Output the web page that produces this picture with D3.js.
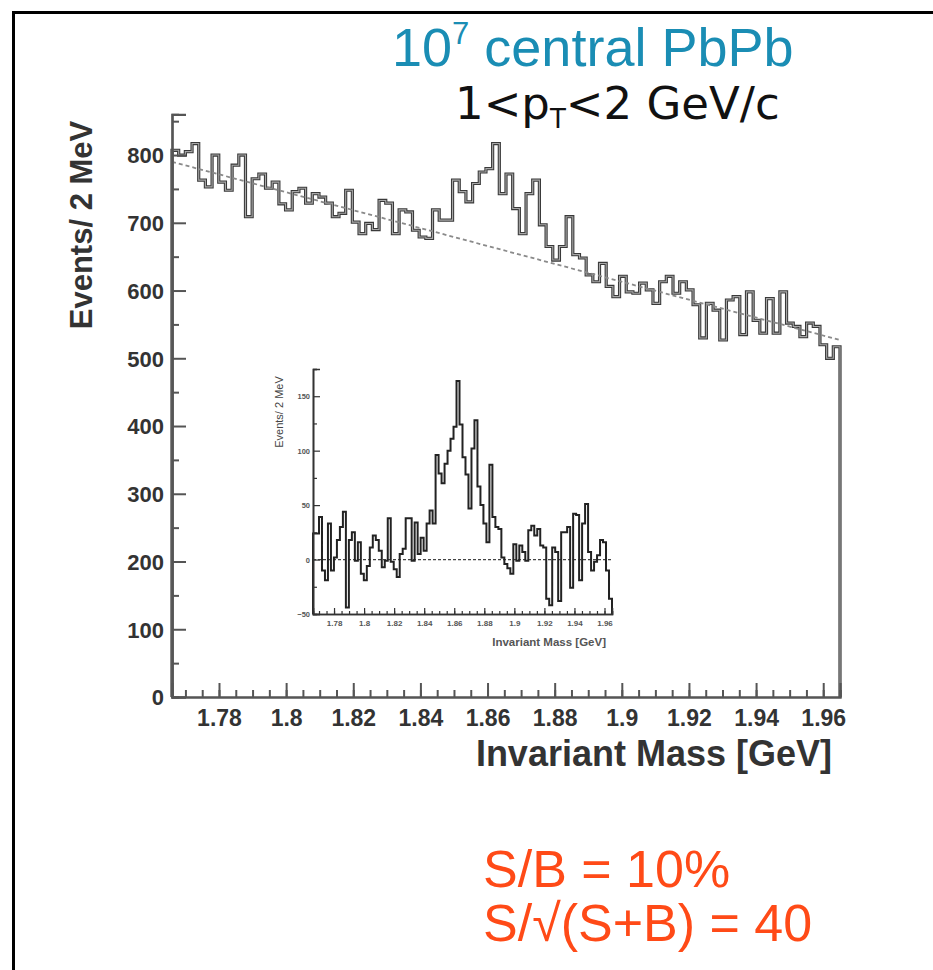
<!DOCTYPE html>
<html>
<head>
<meta charset="utf-8">
<script src="https://cdn.jsdelivr.net/npm/d3@7/dist/d3.min.js"></script>
<style>
  html, body { margin: 0; padding: 0; background: #fff; }
  svg { display: block; }
</style>
</head>
<body>
<svg id="chart" width="933" height="970"></svg>
<script>
// Invariant-mass range covered by the 100 bins (2 MeV each)
const massRange = [1.766, 1.965];

// Candidate counts per bin, 1 < pT < 2 GeV/c
const counts = [
  807, 800, 805, 817, 763, 753, 800, 760, 748, 785,
  800, 709, 765, 772, 751, 760, 728, 719, 746, 751,
  729, 743, 738, 729, 709, 714, 748, 701, 684, 699,
  690, 733, 729, 684, 719, 716, 689, 679, 677, 719,
  704, 704, 763, 746, 731, 758, 775, 780, 817, 743,
  772, 721, 684, 743, 763, 697, 665, 645, 665, 709,
  653, 648, 623, 613, 640, 606, 591, 621, 598, 596,
  611, 601, 581, 613, 621, 596, 613, 601, 579, 530,
  581, 571, 527, 586, 591, 535, 598, 556, 537, 588,
  537, 598, 552, 547, 532, 552, 547, 520, 500, 517
];

// Linear background fit (end points)
const bkgMass = [1.766, 1.965];
const bkgCounts = [790, 527];

// Background-subtracted spectrum shown in the inset
const subtracted = [
  24, 24, 39, -10, -19, 33, -10, 2, 18, 30,
  44, -44, 18, 25, -1, 16, -13, -19, -6, 11,
  22, 18, 8, -7, -1, 38, -2, -9, -16, 5,
  10, 38, 38, -1, 34, 5, 20, 8, 33, 45,
  33, 96, 79, 70, 88, 100, 111, 122, 164, 124,
  94, 78, 47, 102, 128, 67, 50, 33, 16, 87,
  39, 30, 28, 2, -4, -8, -13, 14, -1, 13,
  7, -1, 27, 31, 22, 28, 13, 11, -36, -42,
  11, 7, -38, 25, 25, 30, -26, 42, 41, -19,
  33, 51, 7, -10, -2, 4, 18, 16, -10, -36
];

// Axis ticks
const massTicks = [1.78, 1.80, 1.82, 1.84, 1.86, 1.88, 1.90, 1.92, 1.94, 1.96];
const massTickLabels = ["1.78", "1.8", "1.82", "1.84", "1.86", "1.88", "1.9", "1.92", "1.94", "1.96"];
const massMinorTicks = d3.range(0, 40).map(i => +(1.77 + i * 0.005).toFixed(3));
const countTicks = [0, 100, 200, 300, 400, 500, 600, 700, 800];
const countMinorTicks = [50, 150, 250, 350, 450, 550, 650, 750, 850];
const insetTicks = [-50, 0, 50, 100, 150];
const insetMinorTicks = [-25, 25, 75, 125, 175];

const svg = d3.select("#chart");
const sans = "'Liberation Sans', Arial, sans-serif";

// Page frame
svg.append("rect")
  .attr("x", 13.5).attr("y", 12.5)
  .attr("width", 940).attr("height", 990)
  .attr("fill", "none").attr("stroke", "#000").attr("stroke-width", 3);

// ---------- main spectrum ----------
const x = d3.scaleLinear().domain(massRange).range([172, 840]);
const y = d3.scaleLinear().domain([0, 860]).range([697, 114.4]);

function stepPoints(values, base) {
  const w = (massRange[1] - massRange[0]) / values.length;
  const pts = [[massRange[0], base]];
  values.forEach((v, i) => {
    pts.push([massRange[0] + i * w, v]);
    pts.push([massRange[0] + (i + 1) * w, v]);
  });
  pts.push([massRange[1], base]);
  return pts;
}

const mainLine = d3.line().x(d => x(d[0])).y(d => y(d[1]));
const mainPts = stepPoints(counts, 0);

svg.append("path")
  .attr("d", mainLine(mainPts))
  .attr("fill", "none").attr("stroke", "#3a3a3a")
  .attr("stroke-width", 3.2).attr("stroke-linejoin", "miter");
svg.append("path")
  .attr("d", mainLine(mainPts))
  .attr("fill", "none").attr("stroke", "#a8a8a8")
  .attr("stroke-width", 1.1);

// background fit
svg.append("path")
  .attr("d", mainLine(bkgMass.map((m, i) => [m, bkgCounts[i]])))
  .attr("fill", "none").attr("stroke", "#8a8a8a")
  .attr("stroke-width", 1.8).attr("stroke-dasharray", "4,3");

// y axis
const yAxis = svg.append("g").attr("transform", "translate(172,0)")
  .call(d3.axisLeft(y).tickValues(countTicks).tickSize(-14).tickPadding(8).tickFormat(d3.format("d")));
svg.append("g").attr("transform", "translate(172,0)")
  .call(d3.axisLeft(y).tickValues(countMinorTicks).tickSize(-7).tickFormat(""));

// x axis
const xAxis = svg.append("g").attr("transform", "translate(0,697)")
  .call(d3.axisBottom(x).tickValues(massTicks).tickSize(-14).tickPadding(12)
    .tickFormat((d, i) => massTickLabels[i]));
svg.append("g").attr("transform", "translate(0,697)")
  .call(d3.axisBottom(x).tickValues(massMinorTicks).tickSize(-7).tickFormat(""));

svg.selectAll(".domain").attr("stroke", "#555").attr("stroke-width", 2.2);
svg.selectAll(".tick line").attr("stroke", "#555").attr("stroke-width", 2);

yAxis.selectAll("text")
  .attr("font-family", sans).attr("font-weight", "bold")
  .attr("font-size", 22).attr("fill", "#333").attr("dy", "0.36em");
xAxis.selectAll("text")
  .attr("font-family", sans).attr("font-weight", "bold")
  .attr("font-size", 23).attr("fill", "#333").attr("dy", "0.72em");

// axis titles
svg.append("text")
  .attr("transform", "translate(92,225) rotate(-90)")
  .attr("text-anchor", "middle")
  .attr("font-family", sans).attr("font-weight", "bold")
  .attr("font-size", 31).attr("fill", "#333")
  .text("Events/ 2 MeV");

svg.append("text")
  .attr("x", 832).attr("y", 766)
  .attr("text-anchor", "end")
  .attr("font-family", sans).attr("font-weight", "bold")
  .attr("font-size", 36).attr("fill", "#333")
  .text("Invariant Mass [GeV]");

// ---------- inset: background-subtracted ----------
const xi = d3.scaleLinear().domain(massRange).range([313, 612]);
const yi = d3.scaleLinear().domain([-50, 175]).range([614, 369]);
const insetLine = d3.line().x(d => xi(d[0])).y(d => yi(d[1]));

const inset = svg.append("g");

inset.append("path")
  .attr("d", insetLine([[massRange[0], 0], [massRange[1], 0]]))
  .attr("fill", "none").attr("stroke", "#444")
  .attr("stroke-width", 1.3).attr("stroke-dasharray", "3,2");

inset.append("path")
  .attr("d", insetLine(stepPoints(subtracted, -50)))
  .attr("fill", "none").attr("stroke", "#222")
  .attr("stroke-width", 2);

const iy = inset.append("g").attr("transform", "translate(313,0)")
  .call(d3.axisLeft(yi).tickValues(insetTicks).tickSize(-7).tickPadding(3).tickFormat(d3.format("d")));
inset.append("g").attr("transform", "translate(313,0)")
  .call(d3.axisLeft(yi).tickValues(insetMinorTicks).tickSize(-4).tickFormat(""));
const ix = inset.append("g").attr("transform", "translate(0,614)")
  .call(d3.axisBottom(xi).tickValues(massTicks).tickSize(-6).tickPadding(6)
    .tickFormat((d, i) => massTickLabels[i]));
inset.append("g").attr("transform", "translate(0,614)")
  .call(d3.axisBottom(xi).tickValues(massMinorTicks).tickSize(-3).tickFormat(""));

inset.selectAll(".domain").attr("stroke", "#333").attr("stroke-width", 1.6);
inset.selectAll(".tick line").attr("stroke", "#333").attr("stroke-width", 1.2);
iy.selectAll("text").attr("font-family", sans).attr("font-weight", "bold")
  .attr("font-size", 7.5).attr("fill", "#555").attr("dy", "0.35em");
ix.selectAll("text").attr("font-family", sans).attr("font-weight", "bold")
  .attr("font-size", 8).attr("fill", "#555").attr("dy", "0.7em");

inset.append("text")
  .attr("transform", "translate(283,412) rotate(-90)")
  .attr("text-anchor", "middle")
  .attr("font-family", sans).attr("font-size", 11).attr("fill", "#444")
  .text("Events/ 2 MeV");
inset.append("text")
  .attr("x", 606).attr("y", 646)
  .attr("text-anchor", "end")
  .attr("font-family", sans).attr("font-weight", "bold")
  .attr("font-size", 11.5).attr("fill", "#555")
  .text("Invariant Mass [GeV]");

// ---------- annotations ----------
const t1 = svg.append("text")
  .attr("x", 392).attr("y", 66)
  .attr("font-family", sans)
  .attr("font-size", 54).attr("fill", "#1a8db4");
t1.append("tspan").text("10");
t1.append("tspan").attr("font-size", 31).attr("dy", -22).text("7");
t1.append("tspan").attr("dy", 22).text(" central PbPb");

const t2 = svg.append("text")
  .attr("x", 455).attr("y", 119)
  .attr("font-family", "'DejaVu Sans', Verdana, sans-serif")
  .attr("font-size", 45).attr("fill", "#111");
t2.append("tspan").text("1<p");
t2.append("tspan").attr("font-size", 26).attr("dy", 9).text("T");
t2.append("tspan").attr("dy", -9).text("<2 GeV/c");

const orange = "#ff4a17";
svg.append("text")
  .attr("x", 483).attr("y", 887)
  .attr("font-family", sans)
  .attr("font-size", 52).attr("fill", orange)
  .text("S/B = 10%");
svg.append("text")
  .attr("x", 483).attr("y", 941)
  .attr("font-family", sans)
  .attr("font-size", 52).attr("fill", orange)
  .text("S/\u221A(S+B) = 40");
</script>
</body>
</html>
